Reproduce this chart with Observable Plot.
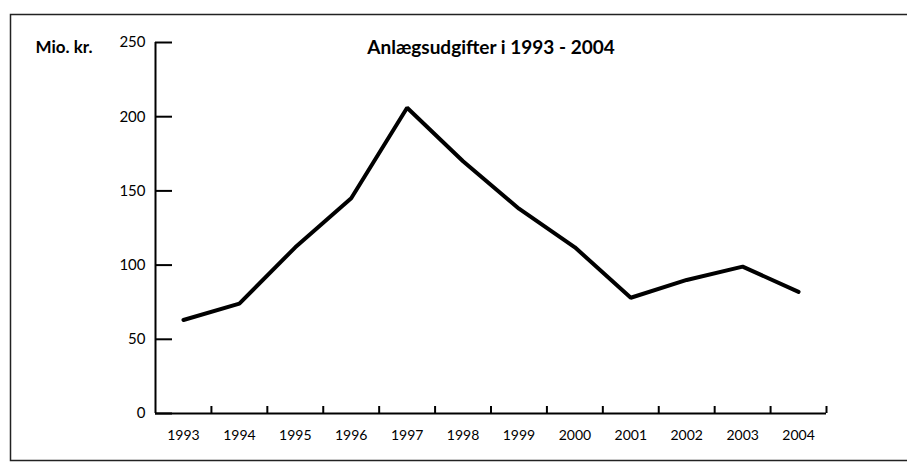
<!DOCTYPE html>
<html>
<head>
<meta charset="utf-8">
<script src="https://cdn.jsdelivr.net/npm/d3@7"></script>
<script src="https://cdn.jsdelivr.net/npm/@observablehq/plot@0.6"></script>
<style>
  html, body { margin: 0; padding: 0; background: white; }
</style>
</head>
<body>
<div id="chart"></div>
<script>
const years = [1993, 1994, 1995, 1996, 1997, 1998, 1999, 2000, 2001, 2002, 2003, 2004];
const values = [63, 74, 112, 145, 206, 170, 138, 112, 78, 90, 99, 82];
const yTicks = [0, 50, 100, 150, 200, 250];
const title = "Anlægsudgifter i 1993 - 2004";
const unitLabel = "Mio. kr.";

const data = years.map((year, i) => ({year, value: values[i]}));
const bounds = [...years.map(y => y - 0.5), years[years.length - 1] + 0.5];
const x0 = bounds[0], x1 = bounds[bounds.length - 1];

const chart = Plot.plot({
  width: 907,
  height: 462,
  marginLeft: 155,
  marginRight: 81,
  marginTop: 42,
  marginBottom: 49,
  style: {fontFamily: "Lato, 'Open Sans', sans-serif", fontSize: "14px", background: "white", color: "black"},
  x: {domain: [x0, x1], label: null},
  y: {domain: [0, 250], label: null},
  marks: [
    Plot.frame({stroke: "#222", strokeWidth: 1.5, insetLeft: -145, insetTop: -28, insetBottom: -47, insetRight: -90}),
    Plot.axisX(years, {tickSize: 0, tickPadding: 17, tickFormat: d => String(d), fontSize: 14, label: null}),
    Plot.axisY(yTicks, {tickSize: 0, tickPadding: 10, fontSize: 15, label: null}),
    Plot.ruleX([x0], {y1: 0, y2: 250, stroke: "black", strokeWidth: 2}),
    Plot.ruleY([0], {x1: x0, x2: x1, stroke: "black", strokeWidth: 2}),
    Plot.ruleY(yTicks, {y: d => d, x1: x0, x2: x0, insetRight: -17, stroke: "black", strokeWidth: 2}),
    Plot.ruleX(bounds.slice(1), {x: d => d, y1: 0, y2: 0, insetTop: -7, stroke: "black", strokeWidth: 2}),
    Plot.line(data, {x: "year", y: "value", stroke: "black", strokeWidth: 4, strokeLinejoin: "miter"}),
    Plot.text([title], {frameAnchor: "top", dy: 5, lineAnchor: "middle", fontWeight: "bold", fontSize: 19}),
    Plot.text([unitLabel], {frameAnchor: "top-left", dx: -120, dy: 5, lineAnchor: "middle", textAnchor: "start", fontWeight: "bold", fontSize: 17})
  ]
});
document.getElementById("chart").appendChild(chart);
</script>
</body>
</html>
